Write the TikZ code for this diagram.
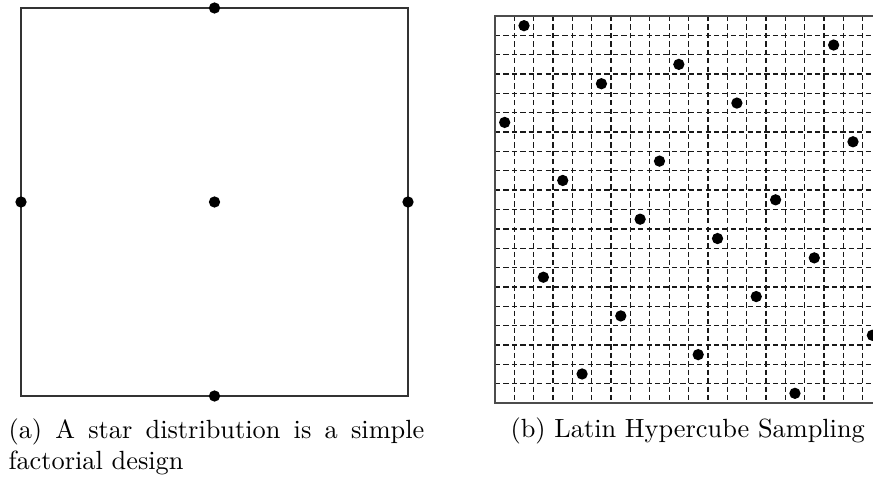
\documentclass[tikz,border=0pt]{standalone}
\usepackage{amsmath, amssymb}
\usepackage{tikz}

\begin{document}
\begin{tikzpicture}[
  x=0.38pt, y=-0.38pt,
  font=\normalsize,
  dot/.style={circle, fill=black, inner sep=0pt, minimum size=4.3pt},
  frame/.style={draw=black!80, line width=0.45pt},
  border/.style={draw=black!70, line width=0.7pt},
  gridline/.style={draw=black!90, line width=0.5pt, dash pattern=on 2pt off 1.2pt},
  capt/.style={inner sep=0pt, font=\normalsize}
]
  \useasboundingbox (0,0) rectangle (873,480);

  % Star distribution: square with centre and edge midpoints
  \draw[frame] (21,8) rectangle (408,396);
  \node[dot] (top) at (214.5,8) {};
  \node[dot] (left) at (21,202) {};
  \node[dot] (centre) at (214.5,202) {};
  \node[dot] (right) at (408,202) {};
  \node[dot] (bottom) at (214.5,396) {};

  % Latin hypercube: 20 x 20 grid, one point per row and column
  \begin{scope}
    \clip (480,0) rectangle (873,480);
    \foreach \i in {1,...,20}
      \draw[gridline] ({495+\i*19.35},16) -- ({495+\i*19.35},403);
    \foreach \j in {1,...,19}
      \draw[gridline] (495,{16+\j*19.35}) -- (900,{16+\j*19.35});
    \draw[border] (900,16) -- (495,16) -- (495,403) -- (900,403);
    \foreach \c [count=\r from 0] in {1,17,9,5,12,0,18,8,3,14,7,11,16,2,13,6,19,10,4,15}
      \node[dot] (lhs\r) at ({495+(\c+0.5)*19.35},{16+(\r+0.5)*19.35}) {};
  \end{scope}

  % Sub-captions
  \node[capt, anchor=north west, text width=158pt, align=justify] (capa) at (8,418)
    {(a) A star distribution is a simple factorial design};
  \node[capt, anchor=base west] (capb) at (510,437) {(b) Latin Hypercube Sampling};
\end{tikzpicture}
\end{document}
